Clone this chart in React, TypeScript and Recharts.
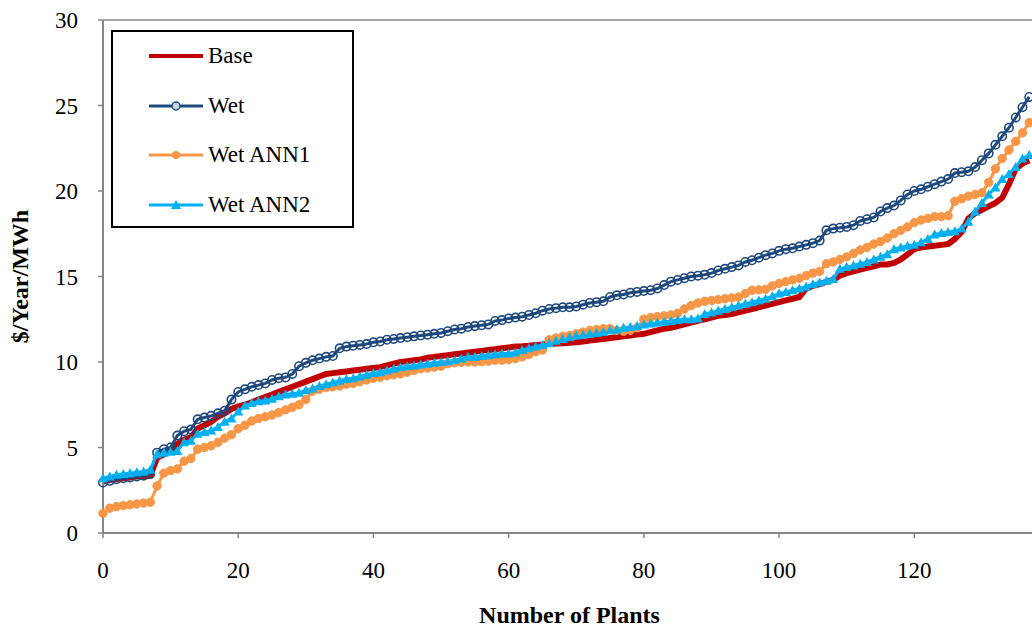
import { LineChart, Line, XAxis, YAxis, Legend, ReferenceLine, Label } from 'recharts';

// values, one per plant (0..137)
const baseCost = [
  3.0, 3.1, 3.15, 3.2, 3.25, 3.3, 3.3, 3.35, 4.4, 4.6, 4.9, 5.2, 5.45, 5.6, 6.1, 6.3, 6.5, 6.8, 7.0, 7.25,
  7.4, 7.5, 7.65, 7.8, 7.95, 8.1, 8.25, 8.4, 8.55, 8.7, 8.85, 9.0, 9.15, 9.3, 9.35, 9.4, 9.45, 9.5, 9.55, 9.6,
  9.65, 9.7, 9.8, 9.9, 10.0, 10.05, 10.1, 10.15, 10.25, 10.3, 10.35, 10.4, 10.45, 10.5, 10.55, 10.6, 10.65, 10.7, 10.75, 10.8,
  10.85, 10.9, 10.92, 10.95, 11.0, 11.02, 11.05, 11.08, 11.1, 11.12, 11.15, 11.2, 11.25, 11.3, 11.35, 11.4, 11.45, 11.5, 11.55, 11.6,
  11.65, 11.75, 11.85, 11.95, 12.0, 12.1, 12.2, 12.3, 12.4, 12.5, 12.6, 12.7, 12.75, 12.8, 12.9, 13.0, 13.1, 13.2, 13.3, 13.4,
  13.5, 13.6, 13.7, 13.8, 14.3, 14.45, 14.55, 14.7, 14.8, 15.05, 15.2, 15.3, 15.4, 15.5, 15.6, 15.7, 15.7, 15.8, 16.0, 16.3,
  16.6, 16.7, 16.75, 16.8, 16.85, 16.9, 17.2, 17.6, 18.4, 18.7, 18.9, 19.1, 19.3, 19.6, 20.4, 21.3, 21.6, 21.8,
];

const wetCost = [
  2.95, 3.05, 3.15, 3.2, 3.25, 3.3, 3.35, 3.45, 4.7, 4.9, 5.0, 5.7, 5.95, 6.05, 6.65, 6.75, 6.85, 7.0, 7.15, 7.8,
  8.25, 8.4, 8.55, 8.65, 8.75, 8.95, 9.05, 9.1, 9.3, 9.75, 9.95, 10.1, 10.2, 10.3, 10.35, 10.8, 10.9, 10.95, 11.0, 11.05,
  11.15, 11.2, 11.3, 11.35, 11.4, 11.45, 11.5, 11.55, 11.6, 11.65, 11.7, 11.8, 11.9, 11.95, 12.05, 12.1, 12.15, 12.2, 12.4, 12.45,
  12.55, 12.6, 12.65, 12.75, 12.85, 13.0, 13.1, 13.15, 13.2, 13.2, 13.25, 13.35, 13.45, 13.5, 13.55, 13.8, 13.9, 13.95, 14.05, 14.1,
  14.15, 14.2, 14.3, 14.5, 14.7, 14.8, 14.9, 15.0, 15.05, 15.1, 15.2, 15.35, 15.45, 15.55, 15.65, 15.85, 15.95, 16.1, 16.25, 16.35,
  16.5, 16.6, 16.65, 16.75, 16.85, 16.95, 17.1, 17.7, 17.8, 17.85, 17.9, 18.0, 18.25, 18.35, 18.45, 18.8, 19.0, 19.15, 19.45, 19.8,
  20.0, 20.1, 20.25, 20.4, 20.55, 20.7, 21.05, 21.1, 21.15, 21.4, 21.8, 22.2, 22.7, 23.2, 23.7, 24.3, 24.9, 25.5,
];

const wetAnn1Cost = [
  1.15, 1.45, 1.55, 1.6, 1.65, 1.7, 1.75, 1.8, 2.75, 3.5, 3.65, 3.75, 4.2, 4.35, 4.9, 5.0, 5.1, 5.3, 5.55, 5.75,
  6.1, 6.3, 6.55, 6.7, 6.8, 6.9, 7.05, 7.2, 7.35, 7.5, 7.8, 8.3, 8.4, 8.5, 8.55, 8.6, 8.7, 8.75, 8.85, 8.95,
  9.05, 9.1, 9.2, 9.25, 9.3, 9.4, 9.5, 9.6, 9.65, 9.7, 9.75, 9.9, 9.95, 9.98, 10.0, 10.0, 10.02, 10.05, 10.1, 10.1,
  10.15, 10.2, 10.3, 10.45, 10.6, 10.7, 11.3, 11.4, 11.5, 11.55, 11.65, 11.75, 11.85, 11.9, 11.95, 11.95, 11.85, 11.8, 11.85, 12.0,
  12.5, 12.6, 12.65, 12.7, 12.75, 12.85, 13.1, 13.3, 13.45, 13.55, 13.6, 13.65, 13.7, 13.75, 13.8, 14.0, 14.2, 14.22, 14.25, 14.45,
  14.6, 14.7, 14.8, 14.9, 15.05, 15.2, 15.3, 15.75, 15.85, 16.0, 16.15, 16.35, 16.55, 16.7, 16.9, 17.05, 17.25, 17.5, 17.7, 17.9,
  18.15, 18.3, 18.4, 18.5, 18.5, 18.55, 19.4, 19.55, 19.7, 19.8, 19.9, 20.5, 21.3, 21.9, 22.4, 22.9, 23.4, 24.0,
];

const wetAnn2Cost = [
  3.2, 3.3, 3.4, 3.45, 3.5, 3.55, 3.6, 3.7, 4.6, 4.7, 4.75, 4.8, 5.3, 5.4, 5.8, 5.9, 6.0, 6.2, 6.5, 6.7,
  7.1, 7.45, 7.6, 7.7, 7.75, 7.85, 8.0, 8.1, 8.15, 8.2, 8.35, 8.45, 8.6, 8.7, 8.8, 8.9, 9.0, 9.05, 9.15, 9.25,
  9.35, 9.4, 9.5, 9.6, 9.7, 9.75, 9.8, 9.85, 9.9, 9.95, 10.0, 10.05, 10.1, 10.2, 10.3, 10.3, 10.35, 10.4, 10.45, 10.5,
  10.5, 10.55, 10.7, 10.8, 10.9, 11.0, 11.1, 11.25, 11.35, 11.45, 11.55, 11.6, 11.65, 11.7, 11.75, 11.85, 11.9, 12.0, 12.05, 12.1,
  12.2, 12.25, 12.3, 12.35, 12.4, 12.45, 12.5, 12.5, 12.55, 12.8, 12.9, 13.0, 13.1, 13.2, 13.3, 13.4, 13.5, 13.6, 13.7, 13.85,
  14.0, 14.1, 14.2, 14.3, 14.4, 14.55, 14.65, 14.75, 14.85, 15.45, 15.55, 15.65, 15.75, 15.85, 16.0, 16.15, 16.3, 16.6, 16.7, 16.8,
  16.85, 17.0, 17.2, 17.45, 17.55, 17.6, 17.65, 17.8, 18.2, 18.8, 19.3, 19.8, 20.2, 20.7, 21.0, 21.4, 21.9, 22.1,
];

const xTicks = [0, 20, 40, 60, 80, 100, 120];
const yTicks = [0, 5, 10, 15, 20, 25, 30];

const FONT = '"Liberation Serif", "Times New Roman", serif';
const AXIS_GRAY = '#868686';

const series = [
  { key: 'base', name: 'Base', color: '#C00000', marker: 'none' },
  { key: 'wet', name: 'Wet', color: '#1F497D', marker: 'ring' },
  { key: 'ann1', name: 'Wet ANN1', color: '#F79646', marker: 'circle' },
  { key: 'ann2', name: 'Wet ANN2', color: '#00B0F0', marker: 'triangle' },
];

const chartData = baseCost.map((v, i) => ({
  plant: i,
  base: v,
  wet: wetCost[i],
  ann1: wetAnn1Cost[i],
  ann2: wetAnn2Cost[i],
}));

const TriangleDot = (props: any) => {
  const { cx, cy, index } = props;
  if (cx == null || cy == null) return <g key={`t-${index}`} />;
  return (
    <path
      key={`t-${index}`}
      d={`M${cx},${cy - 5} L${cx + 5},${cy + 4} L${cx - 5},${cy + 4} Z`}
      fill="#00B0F0"
    />
  );
};

const LegendIcon = ({ color, marker }: { color: string; marker: string }) => (
  <svg width={54} height={14} style={{ display: 'block' }}>
    <line x1={1} y1={7} x2={53} y2={7} stroke={color} strokeWidth={marker === 'none' ? 4 : 3} strokeLinecap="round" />
    {marker === 'ring' && <circle cx={27} cy={7} r={4} fill="#C5D3E6" stroke={color} strokeWidth={1.5} />}
    {marker === 'circle' && <circle cx={27} cy={7} r={4} fill={color} />}
    {marker === 'triangle' && <path d="M27,2 L32,11 L22,11 Z" fill={color} />}
  </svg>
);

const LegendBox = () => (
  <div
    style={{
      width: 243,
      height: 198,
      boxSizing: 'border-box',
      border: '2px solid #000',
      background: '#fff',
      position: 'relative',
      fontFamily: FONT,
      fontSize: 23,
      color: '#000',
    }}
  >
    {series.map((s, i) => (
      <div
        key={s.key}
        style={{ position: 'absolute', left: 36, top: 10 + i * 49.7, height: 28, display: 'flex', alignItems: 'center' }}
      >
        <LegendIcon color={s.color} marker={s.marker} />
        <span style={{ marginLeft: 5, lineHeight: '28px' }}>{s.name}</span>
      </div>
    ))}
  </div>
);

const App = () => {
  return (
    <div style={{ position: 'absolute', left: 0, top: 0, width: 1032, height: 628, overflow: 'hidden', background: '#fff' }}>
      <LineChart width={1040} height={628} data={chartData} margin={{ top: 20, right: 4, bottom: 0, left: 0 }}>
        <XAxis
          type="number"
          dataKey="plant"
          domain={[0, 138]}
          ticks={xTicks}
          tickSize={5}
          tickMargin={24}
          height={95}
          axisLine={{ stroke: AXIS_GRAY, strokeWidth: 2 }}
          tickLine={{ stroke: AXIS_GRAY, strokeWidth: 1.5 }}
          tick={{ fill: '#000', fontSize: 23, fontFamily: FONT }}
        >
          <Label
            content={({ viewBox }: any) => (
              <text
                x={viewBox.x + viewBox.width / 2}
                y={viewBox.y + 82}
                textAnchor="middle"
                dominantBaseline="central"
                fontFamily={FONT}
                fontSize={24}
                fontWeight="bold"
                fill="#000"
              >
                Number of Plants
              </text>
            )}
          />
        </XAxis>
        <YAxis
          type="number"
          domain={[0, 30]}
          ticks={yTicks}
          width={103}
          tickSize={5}
          tickMargin={20}
          axisLine={{ stroke: AXIS_GRAY, strokeWidth: 2 }}
          tickLine={{ stroke: AXIS_GRAY, strokeWidth: 1.5 }}
          tick={{ fill: '#000', fontSize: 23, fontFamily: FONT }}
        >
          <Label
            content={({ viewBox }: any) => {
              const cx = 20;
              const cy = viewBox.y + viewBox.height / 2;
              return (
                <text
                  x={cx}
                  y={cy}
                  transform={`rotate(-90 ${cx} ${cy})`}
                  textAnchor="middle"
                  dominantBaseline="central"
                  fontFamily={FONT}
                  fontSize={24}
                  fontWeight="bold"
                  fill="#000"
                >
                  $/Year/MWh
                </text>
              );
            }}
          />
        </YAxis>
        <ReferenceLine y={30} stroke={AXIS_GRAY} strokeWidth={1.5} />
        <Legend
          layout="vertical"
          align="center"
          verticalAlign="middle"
          content={() => <LegendBox />}
          wrapperStyle={{ position: 'absolute', left: 111, top: 30, width: 243, height: 198 }}
        />
        <Line
          type="linear"
          dataKey="base"
          name="Base"
          stroke="#C00000"
          strokeWidth={6}
          dot={false}
          activeDot={false}
          isAnimationActive={false}
        />
        <Line
          type="linear"
          dataKey="wet"
          name="Wet"
          stroke="#1F497D"
          strokeWidth={3}
          dot={{ r: 4.2, fill: 'none', stroke: '#1F497D', strokeWidth: 1.6 }}
          activeDot={false}
          isAnimationActive={false}
        />
        <Line
          type="linear"
          dataKey="ann1"
          name="Wet ANN1"
          stroke="#F79646"
          strokeWidth={3}
          dot={{ r: 4.2, fill: '#F79646', stroke: '#F79646', strokeWidth: 1 }}
          activeDot={false}
          isAnimationActive={false}
        />
        <Line
          type="linear"
          dataKey="ann2"
          name="Wet ANN2"
          stroke="#00B0F0"
          strokeWidth={3}
          dot={TriangleDot}
          activeDot={false}
          isAnimationActive={false}
        />
      </LineChart>
    </div>
  );
};

export default App;
